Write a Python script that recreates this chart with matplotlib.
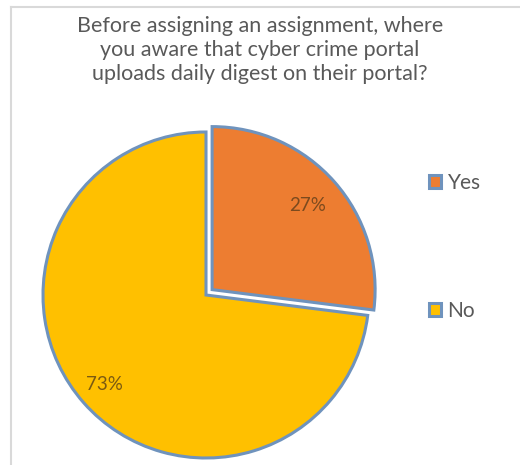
import matplotlib
matplotlib.use("Agg")
import matplotlib.pyplot as plt
from matplotlib.lines import Line2D
import numpy as np

labels = ["Yes", "No"]
values = [27, 73]
colors = ["#ED7D31", "#FFC000"]
title = "Before assigning an assignment, where\nyou aware that cyber crime portal\nuploads daily digest on their portal?"

plt.rcParams['font.family'] = ['Lato', 'DejaVu Sans']

W, H = 520, 465
fig = plt.figure(figsize=(W/100, H/100), dpi=100)
fig.patch.set_facecolor('white')

# chart border (light grey)
fig.add_artist(Line2D([11/W, 11/W], [0, 1-7/H], color='#d9d9d9', lw=1.5, transform=fig.transFigure))
fig.add_artist(Line2D([11/W, 1], [1-7/H, 1-7/H], color='#d9d9d9', lw=1.5, transform=fig.transFigure))

fig.text(0.5, 1-50/H, title, ha='center', va='center', fontsize=15.5,
         color='#595959', linespacing=1.25)

cx, cy, R = 206, 295, 163
half = 190
ax = fig.add_axes([(cx-half)/W, (H-cy-half)/H, 2*half/W, 2*half/H])

wedges, texts, autotexts = ax.pie(values, colors=colors, startangle=90, counterclock=False,
                                  explode=[0.05, 0], radius=1,
                                  autopct='%1.0f%%', pctdistance=0.78,
                                  wedgeprops=dict(edgecolor='#6F93BD', linewidth=2.2),
                                  textprops=dict(fontsize=13.5, color='#7B4A1E'))
ax.set_xlim(-half/R, half/R)
ax.set_ylim(-half/R, half/R)
ax.set_aspect('equal')
ax.axis('off')
autotexts[1].set_color('#7A5A12')
th = np.deg2rad(90 - 360*values[0]/100 - 360*values[1]/200)
autotexts[1].set_position((0.83*np.cos(th), 0.83*np.sin(th)))

leg = fig.legend(wedges, labels, loc='upper left', bbox_to_anchor=(410/W, 1-154/H),
                 frameon=False, fontsize=15, handlelength=0.6, handleheight=0.6,
                 handletextpad=0.3, labelspacing=5.2, labelcolor='#595959')

fig.savefig("out.png", dpi=100)
